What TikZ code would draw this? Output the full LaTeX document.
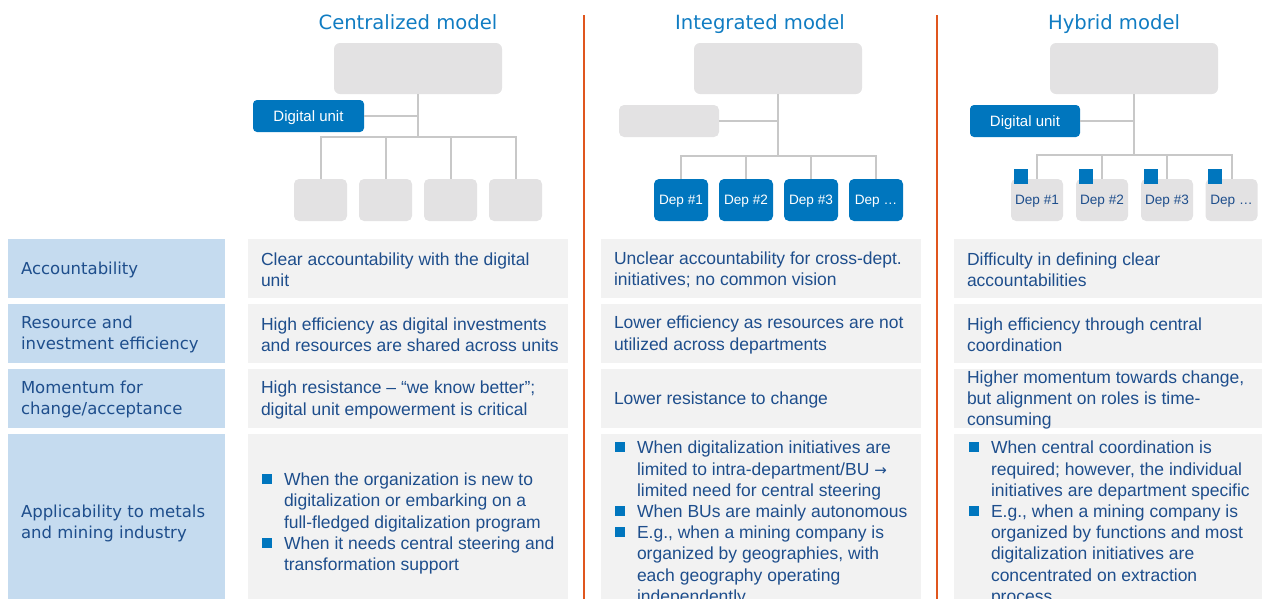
\documentclass[tikz,border=0pt]{standalone}
\usepackage{fontspec}
\setmainfont{Liberation Sans}
\newfontfamily\labfont{DejaVu Sans}
\definecolor{titleblue}{RGB}{16,124,194}
\definecolor{dublue}{RGB}{0,118,190}
\definecolor{txtblue}{RGB}{30,78,140}
\definecolor{labelbg}{RGB}{197,219,239}
\definecolor{cellbg}{RGB}{242,242,242}
\definecolor{orggray}{RGB}{227,226,227}
\definecolor{linegray}{RGB}{200,200,200}
\definecolor{sepo}{RGB}{224,86,30}
\newcommand{\bul}{\leavevmode\llap{\textcolor{dublue}{\rule[1.5pt]{10pt}{10pt}}\hspace{12pt}}}
\newcommand{\rarr}{{\labfont\fontsize{15}{18}\selectfont →}}
\begin{document}
\begin{tikzpicture}[x=1pt,y=-1pt,
  title/.style={font=\labfont\fontsize{19.6}{23}\selectfont, text=titleblue, anchor=base, inner sep=0},
  orgbox/.style={fill=orggray, rounded corners=6pt, inner sep=0},
  smallbox/.style={rounded corners=5pt, inner sep=0, minimum height=42, text height=9.7pt, text depth=0pt, font=\fontsize{13.6}{16}\selectfont},
  dubox/.style={fill=dublue, rounded corners=4pt, text=white, inner sep=0, text height=10.7pt, text depth=0pt, font=\fontsize{15}{18}\selectfont},
  sq/.style={fill=dublue, inner sep=0, minimum width=14, minimum height=15},
  conn/.style={draw=linegray, line width=2pt},
  sepline/.style={draw=sepo, line width=2.5pt},
  lab/.style={fill=labelbg, inner sep=0, minimum width=217},
  cell/.style={fill=cellbg, inner sep=0, minimum width=320},
  ltxt/.style={font=\labfont\fontsize{16.5}{21}\selectfont, text=txtblue, align=left, inner sep=0, anchor=west, yshift=-1pt},
  txt/.style={font=\fontsize{17.5}{21.2}\selectfont, text=txtblue, align=left, inner sep=0, anchor=west, yshift=-1.5pt}
]
\useasboundingbox (0,0) rectangle (1262,598);
\clip (0,0) rectangle (1262,598);

% titles
\node[title] (t1) at (408,29) {Centralized model};
\node[title] (t2) at (760,29) {Integrated model};
\node[title] (t3) at (1114,29) {Hybrid model};

% separators
\coordinate (s1a) at (584,15); \coordinate (s1b) at (584,600);
\coordinate (s2a) at (937,15); \coordinate (s2b) at (937,600);
\draw[sepline] (s1a) -- (s1b);
\draw[sepline] (s2a) -- (s2b);

% ---------- centralized ----------
\node[orgbox, minimum width=168, minimum height=51] (c0) at (418,68.5) {};
\node[dubox, minimum width=111, minimum height=32] (cdu) at (308.5,116) {Digital unit};
\foreach \i/\x in {1/320.5,2/385.5,3/450.5,4/515.5}
  \node[smallbox, fill=orggray, minimum width=53] (c\i) at (\x,200) {};
\coordinate (cj) at (418,137);
\draw[conn] (c0.south) -- (cj);
\draw[conn] (cdu.east) -- (cdu.east -| c0.south);
\draw[conn] (c1.north) |- (cj) -| (c4.north);
\foreach \i in {2,3} \draw[conn] (c\i.north) -- (c\i.north |- cj);

% ---------- integrated ----------
\node[orgbox, minimum width=168, minimum height=51] (i0) at (778,68.5) {};
\node[orgbox, rounded corners=5pt, minimum width=100, minimum height=32] (idu) at (669,121) {};
\foreach \i/\x/\t in {1/681/{Dep \#1},2/746/{Dep \#2},3/811/{Dep \#3},4/876/{Dep …}}
  \node[smallbox, fill=dublue, text=white, minimum width=54] (i\i) at (\x,200) {\t};
\coordinate (ij) at (778,156);
\draw[conn] (i0.south) -- (ij);
\draw[conn] (idu.east) -- (idu.east -| i0.south);
\draw[conn] (i1.north) |- (ij) -| (i4.north);
\foreach \i in {2,3} \draw[conn] (i\i.north) -- (i\i.north |- ij);

% ---------- hybrid ----------
\node[orgbox, minimum width=168, minimum height=51] (h0) at (1134,68.5) {};
\node[dubox, minimum width=110, minimum height=32] (hdu) at (1025,121) {Digital unit};
\foreach \i/\x/\t in {1/1037/{Dep \#1},2/1102/{Dep \#2},3/1167/{Dep \#3},4/1231.5/{Dep …}}
  \node[smallbox, fill=orggray, text=txtblue, minimum width=52] (h\i) at (\x,200) {\t};
\coordinate (hj) at (1134,155);
\draw[conn] (h0.south) -- (hj);
\draw[conn] (hdu.east) -- (hdu.east -| h0.south);
\draw[conn] (h1.north) |- (hj) -| (h4.north);
\foreach \i in {2,3} \draw[conn] (h\i.north) -- (h\i.north |- hj);
\foreach \i in {1,2,3,4}
  \node[sq] (hs\i) at ([xshift=10pt,yshift=2.5pt]h\i.north west) {};

% ---------- table ----------
\node[lab, minimum height=59] (l1) at (116.5,268.5) {};
\node[lab, minimum height=59] (l2) at (116.5,333.5) {};
\node[lab, minimum height=59] (l3) at (116.5,398.5) {};
\node[lab, minimum height=176] (l4) at (116.5,522) {};
\foreach \c/\x in {a/408,b/761,c/1114}{
  \node[cell, minimum height=59] (\c1) at (\x,268.5) {};
  \node[cell, minimum height=59] (\c2) at (\x,333.5) {};
  \node[cell, minimum height=59] (\c3) at (\x,398.5) {};
  \node[cell, minimum height=176] (\c4) at (\x,522) {};
}

\node[ltxt] (lt1) at ([xshift=13pt]l1.west) {Accountability};
\node[ltxt] (lt2) at ([xshift=13pt]l2.west) {Resource and\\investment efficiency};
\node[ltxt] (lt3) at ([xshift=13pt]l3.west) {Momentum for\\change/acceptance};
\node[ltxt] (lt4) at ([xshift=13pt]l4.west) {Applicability to metals\\and mining industry};

\node[txt] (at1) at ([xshift=13pt]a1.west) {Clear accountability with the digital\\unit};
\node[txt] (at2) at ([xshift=13pt]a2.west) {High efficiency as digital investments\\and resources are shared across units};
\node[txt] (at3) at ([xshift=13pt]a3.west) {High resistance – “we know better”;\\digital unit empowerment is critical};
\node[txt] (at4) at ([xshift=36pt]a4.west) {\bul When the organization is new to\\digitalization or embarking on a\\full-fledged digitalization program\\\bul When it needs central steering and\\transformation support};

\node[txt] (bt1) at ([xshift=13pt]b1.west) {Unclear accountability for cross-dept.\\initiatives; no common vision};
\node[txt] (bt2) at ([xshift=13pt]b2.west) {Lower efficiency as resources are not\\utilized across departments};
\node[txt] (bt3) at ([xshift=13pt]b3.west) {Lower resistance to change};
\node[txt] (bt4) at ([xshift=36pt]b4.west) {\bul When digitalization initiatives are\\limited to intra-department/BU \rarr\\limited need for central steering\\\bul When BUs are mainly autonomous\\\bul E.g., when a mining company is\\organized by geographies, with\\each geography operating\\independently};

\node[txt] (ct1) at ([xshift=13pt]c1.west) {Difficulty in defining clear\\accountabilities};
\node[txt] (ct2) at ([xshift=13pt]c2.west) {High efficiency through central\\coordination};
\node[txt] (ct3) at ([xshift=13pt]c3.west) {Higher momentum towards change,\\but alignment on roles is time-\\consuming};
\node[txt] (ct4) at ([xshift=37pt]c4.west) {\bul When central coordination is\\required; however, the individual\\initiatives are department specific\\\bul E.g., when a mining company is\\organized by functions and most\\digitalization initiatives are\\concentrated on extraction\\process};
\end{tikzpicture}
\end{document}
